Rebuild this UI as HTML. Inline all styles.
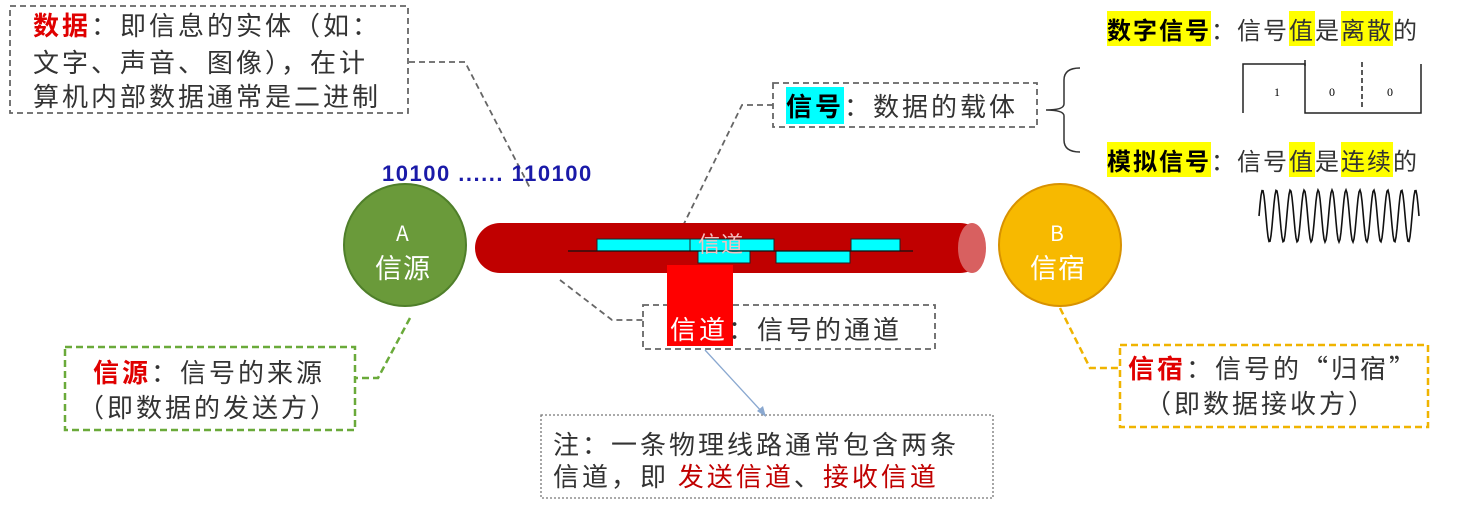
<!DOCTYPE html>
<html><head><meta charset="utf-8"><style>
html,body{margin:0;padding:0;background:#fff;}
body{width:1461px;height:518px;position:relative;overflow:hidden;font-family:"Liberation Sans","Noto Sans CJK SC",sans-serif;}
.t{position:absolute;white-space:nowrap;color:#333;font-size:26px;line-height:34px;letter-spacing:3px;font-family:"WenQuanYi Zen Hei","Noto Sans CJK SC",sans-serif;}
.b{font-weight:bold;}
.red{color:#e00000;}
.hl{background:#ffff00;}
</style></head><body>
<svg width="1461" height="518" style="position:absolute;left:0;top:0">
<g fill="none" stroke="#666" stroke-width="1.8" stroke-dasharray="6,4">
<rect x="10" y="6" width="398" height="107"/>
<polyline points="409,62 465,62 530,188"/>
<rect x="773" y="83" width="264" height="44"/>
<polyline points="773,105 742,105 678,236"/>
<rect x="643" y="305" width="292" height="44"/>
<polyline points="560,280 612,320 643,320"/>
</g>
<rect x="541" y="415" width="452" height="83" fill="none" stroke="#777" stroke-width="1.3" stroke-dasharray="2,2"/>
<g fill="none" stroke="#6aaa3a" stroke-width="2.5" stroke-dasharray="7,4">
<rect x="65" y="347" width="290" height="83"/>
<polyline points="410,318 378,378 355,378"/>
</g>
<g fill="none" stroke="#f0b400" stroke-width="2.5" stroke-dasharray="7,4">
<rect x="1120" y="345" width="308" height="82"/>
<polyline points="1060,308 1090,368 1120,368"/>
</g>
<line x1="705" y1="350" x2="763" y2="413" stroke="#8aa8d0" stroke-width="1.3"/>
<polygon points="766,417 757,411 763,406" fill="#8aa8d0"/>
<circle cx="405" cy="245" r="61" fill="#6a9a3a" stroke="#4f7f2a" stroke-width="2"/>
<circle cx="1060" cy="245" r="61" fill="#f7b900" stroke="#d89200" stroke-width="2"/>
<rect x="475" y="223" width="510" height="50" rx="25" fill="#c00000"/>
<ellipse cx="972" cy="248" rx="14" ry="25" fill="#d86060"/>
<rect x="667" y="265" width="66" height="81" fill="#ff0000"/>
<g fill="#00ffff" stroke="#222" stroke-width="1">
<rect x="597" y="239" width="93" height="12"/>
<rect x="690" y="239" width="84" height="12"/>
<rect x="851" y="239" width="49" height="12"/>
<rect x="698" y="251" width="52" height="12"/>
<rect x="776" y="251" width="74" height="12"/>
</g>
<line x1="568" y1="251" x2="913" y2="251" stroke="#111" stroke-width="1.3"/>
<path d="M1080,68 Q1064,68 1064,80 L1064,104 Q1064,110 1046,110 Q1064,110 1064,116 L1064,140 Q1064,152 1080,152" fill="none" stroke="#333" stroke-width="1.5"/>
<g fill="none" stroke="#222" stroke-width="1.5">
<polyline points="1243,113 1243,64 1305,64 1305,113 1421,113 1421,64"/>
<line x1="1305" y1="60" x2="1305" y2="66"/>
<line x1="1362" y1="62" x2="1362" y2="110" stroke-dasharray="5,3"/>
</g>
<text x="1274" y="96" font-size="12" font-family="Liberation Serif">1</text>
<text x="1329" y="96" font-size="12" font-family="Liberation Serif">0</text>
<text x="1387" y="96" font-size="12" font-family="Liberation Serif">0</text>
<path id="sine" fill="none" stroke="#111" stroke-width="1.6" d=""/>
<script>
(function(){var d="";for(var x=0;x<=160;x++){var y=216-26*Math.sin(x/160*2*Math.PI*11.5);d+=(x?"L":"M")+(1259+x)+","+y.toFixed(1);}document.getElementById("sine").setAttribute("d",d);})();
</script>
</svg>
<div class="t" style="left:33px;top:8px"><span class="b red">数据</span>：即信息的实体（如：</div>
<div class="t" style="left:33px;top:45px">文字、声音、图像），在计</div>
<div class="t" style="left:33px;top:79px">算机内部数据通常是二进制</div>
<div class="t b" style="left:382px;top:157px;font-size:22px;letter-spacing:1.5px;color:#1a1aa8;font-family:'Liberation Sans',sans-serif">10100 ...... 110100</div>
<div class="t" style="left:396px;top:216px;color:#fff;font-size:21px;letter-spacing:0">A</div>
<div class="t" style="left:375px;top:250px;color:#fff;font-size:27px;letter-spacing:1px">信源</div>
<div class="t" style="left:1050px;top:216px;color:#fff;font-size:21px;letter-spacing:0">B</div>
<div class="t" style="left:1030px;top:250px;color:#fff;font-size:27px;letter-spacing:1px">信宿</div>
<div class="t" style="left:698px;top:226px;color:#f5c0c0;font-size:22px;letter-spacing:1px">信道</div>
<div class="t" style="left:786px;top:89px"><span class="b" style="background:#00ffff;color:#000">信号</span>：数据的载体</div>
<div class="t" style="left:670px;top:312px"><span style="color:#fff">信道</span>：信号的通道</div>
<div class="t" style="left:553px;top:427px">注：一条物理线路通常包含两条</div>
<div class="t" style="left:553px;top:459px">信道，即 <span style="color:#c00000">发送信道</span>、<span style="color:#c00000">接收信道</span></div>
<div class="t" style="left:93px;top:355px"><span class="b red">信源</span>：信号的来源</div>
<div class="t" style="left:78px;top:390px">（即数据的发送方）</div>
<div class="t" style="left:1128px;top:351px"><span class="b red">信宿</span>：信号的“归宿”</div>
<div class="t" style="left:1145px;top:386px">（即数据接收方）</div>
<div class="t" style="left:1107px;top:12px;font-size:24px;letter-spacing:2px"><span class="b hl" style="color:#000">数字信号</span>：信号<span class="hl">值</span>是<span class="hl">离散</span>的</div>
<div class="t" style="left:1107px;top:143px;font-size:24px;letter-spacing:2px"><span class="b hl" style="color:#000">模拟信号</span>：信号<span class="hl">值</span>是<span class="hl">连续</span>的</div>
</body></html>
